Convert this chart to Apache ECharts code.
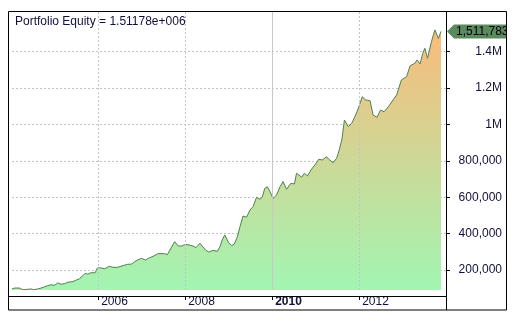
<!DOCTYPE html>
<html>
<head>
<meta charset="utf-8">
<script src="https://cdn.jsdelivr.net/npm/echarts@6/dist/echarts.min.js"></script>
<style>
html,body{margin:0;padding:0;background:#fff;}
#chart{width:515px;height:321px;}
</style>
</head>
<body>
<div id="chart"></div>
<script>
const titleText = 'Portfolio Equity = 1.51178e+006';
const years = [2004.02,2004.08,2004.19,2004.27,2004.31,2004.46,2004.52,2004.61,2004.69,2004.77,
2004.84,2004.92,2005.00,2005.07,2005.15,2005.23,2005.30,2005.42,2005.49,2005.57,
2005.65,2005.70,2005.76,2005.83,2005.93,2005.98,2006.03,2006.15,2006.26,2006.34,
2006.45,2006.57,2006.67,2006.77,2006.84,2006.92,2007.00,2007.09,2007.15,2007.26,
2007.38,2007.53,2007.59,2007.65,2007.76,2007.84,2007.92,2008.01,2008.09,2008.18,
2008.25,2008.34,2008.39,2008.47,2008.54,2008.64,2008.74,2008.80,2008.85,2008.91,
2008.95,2009.00,2009.07,2009.13,2009.20,2009.26,2009.33,2009.41,2009.49,2009.56,
2009.64,2009.72,2009.77,2009.83,2009.89,2009.95,2010.02,2010.10,2010.18,2010.25,
2010.33,2010.43,2010.51,2010.56,2010.68,2010.74,2010.81,2010.89,2010.98,2011.07,
2011.15,2011.25,2011.30,2011.40,2011.48,2011.52,2011.60,2011.66,2011.75,2011.83,
2011.90,2011.98,2012.07,2012.15,2012.25,2012.32,2012.41,2012.49,2012.57,2012.67,
2012.78,2012.86,2012.97,2013.09,2013.17,2013.28,2013.33,2013.40,2013.46,2013.51,
2013.57,2013.66,2013.74,2013.82,2013.88];
const equity = [96000,101000,101000,91000,96000,96000,91000,96000,101000,108000,
114000,119000,116000,129000,122000,125000,133000,136000,144000,152000,
169000,182000,177000,185000,185000,210000,213000,207000,221000,215000,
215000,224000,231000,233000,246000,257000,264000,255000,264000,275000,
290000,290000,284000,310000,356000,332000,332000,341000,338000,332000,
323000,347000,332000,310000,299000,308000,303000,328000,365000,393000,
387000,350000,334000,343000,383000,438000,497000,490000,530000,548000,
600000,589000,600000,649000,658000,631000,594000,612000,658000,686000,
644000,677000,673000,732000,710000,732000,717000,750000,777000,809000,
805000,823000,809000,790000,814000,842000,915000,1025000,988000,1007000,
1043000,1089000,1153000,1135000,1131000,1052000,1040000,1080000,1070000,1098000,
1135000,1162000,1245000,1263000,1323000,1337000,1355000,1333000,1391000,1419000,
1364000,1455000,1520000,1474000,1511783];
const xTicks = [2006, 2008, 2010, 2012];
const yTicks = [200000, 400000, 600000, 800000, 1000000, 1200000, 1400000];

const seriesData = years.map((y, i) => [y, equity[i]]);
const lastIdx = years.length - 1;
const FONT = 'Arial, "Liberation Sans", sans-serif';
const TXT = '#10103a';

function fmtY(v) {
  if (v >= 1000000) return (v / 1000000) + 'M';
  return Number(v).toLocaleString('en-US');
}

const chart = echarts.init(document.getElementById('chart'), null, {renderer: 'canvas'});
chart.setOption({
  animation: false,
  backgroundColor: '#fff',
  textStyle: {fontFamily: FONT},
  title: {
    text: titleText,
    left: 10, top: 11,
    textStyle: {fontSize: 12, fontWeight: 'normal', color: TXT, fontFamily: FONT}
  },
  grid: {left: 12, right: 69, top: 11, bottom: 31},
  xAxis: {
    type: 'value',
    min: 2004.02, max: 2013.995,
    offset: 6,
    axisLine: {show: false},
    splitLine: {show: false},
    axisTick: {show: true, customValues: xTicks, length: 4, lineStyle: {color: '#000'}},
    axisLabel: {
      customValues: xTicks,
      align: 'left',
      verticalAlign: 'top',
      margin: 0,
      padding: [0, 0, 0, 3],
      fontSize: 12, color: TXT, fontFamily: FONT,
      formatter: v => v === 2010 ? '{b|2010}' : String(v),
      rich: {b: {fontWeight: 'bold', fontSize: 12, color: TXT, fontFamily: FONT}}
    }
  },
  yAxis: {
    type: 'value',
    position: 'right',
    min: 90200, max: 1624000,
    axisLine: {show: false},
    splitLine: {show: false},
    axisTick: {show: true, customValues: yTicks, length: 4, lineStyle: {color: '#000'}},
    axisLabel: {
      customValues: yTicks,
      align: 'right',
      margin: 56,
      fontSize: 12, color: TXT, fontFamily: FONT,
      formatter: fmtY
    }
  },
  series: [
    {
      name: 'grid-h',
      type: 'line',
      z: 0,
      data: seriesData,
      showSymbol: false,
      silent: true,
      lineStyle: {opacity: 0},
      markLine: {
        z: 0,
        silent: true,
        symbol: 'none',
        label: {show: false},
        lineStyle: {color: '#c4c4c4', type: [2, 2], width: 1},
        data: yTicks.map(v => ({yAxis: v}))
      }
    },
    {
      name: 'Equity',
      type: 'line',
      z: 2,
      data: seriesData,
      showSymbol: false,
      lineStyle: {color: '#4f7f55', width: 1},
      areaStyle: {
        opacity: 1,
        color: new echarts.graphic.LinearGradient(0, 0, 0, 1, [
          {offset: 0, color: '#f9bb7b'},
          {offset: 1, color: '#a2f5b2'}
        ])
      },
      markPoint: {
        silent: true,
        symbol: 'path://M0,7 L7,0 L60,0 L60,14 L7,14 Z',
        symbolSize: [60, 14],
        symbolOffset: [36, 0],
        itemStyle: {color: '#5b8a5f'},
        label: {
          show: true,
          position: 'insideLeft',
          distance: 9,
          color: '#000',
          fontSize: 12,
          fontFamily: FONT,
          formatter: p => Math.round(p.value).toLocaleString('en-US')
        },
        data: [{coord: [years[lastIdx], equity[lastIdx]], value: equity[lastIdx]}]
      }
    },
    {
      name: 'grid-v',
      type: 'line',
      z: 3,
      data: [],
      silent: true,
      markLine: {
        z: 6,
        silent: true,
        symbol: 'none',
        label: {show: false},
        data: xTicks.map(v => ({
          xAxis: v,
          lineStyle: v === 2010
            ? {color: '#c8c8c8', type: 'solid', width: 1}
            : {color: '#c4c4c4', type: [2, 2], width: 1}
        }))
      }
    }
  ],
  graphic: [
    {type: 'rect', z: 100, silent: true, shape: {x: 507, y: 0, width: 8, height: 321}, style: {fill: '#fff'}},
    {type: 'rect', z: 101, silent: true, shape: {x: 8.5, y: 11.5, width: 498, height: 298.5}, style: {fill: null, stroke: '#000', lineWidth: 1}},
    {type: 'line', z: 101, silent: true, shape: {x1: 446.5, y1: 11, x2: 446.5, y2: 310}, style: {stroke: '#000', lineWidth: 1}},
    {type: 'line', z: 101, silent: true, shape: {x1: 8, y1: 296.5, x2: 446.5, y2: 296.5}, style: {stroke: '#000', lineWidth: 1}}
  ]
});
</script>
</body>
</html>
